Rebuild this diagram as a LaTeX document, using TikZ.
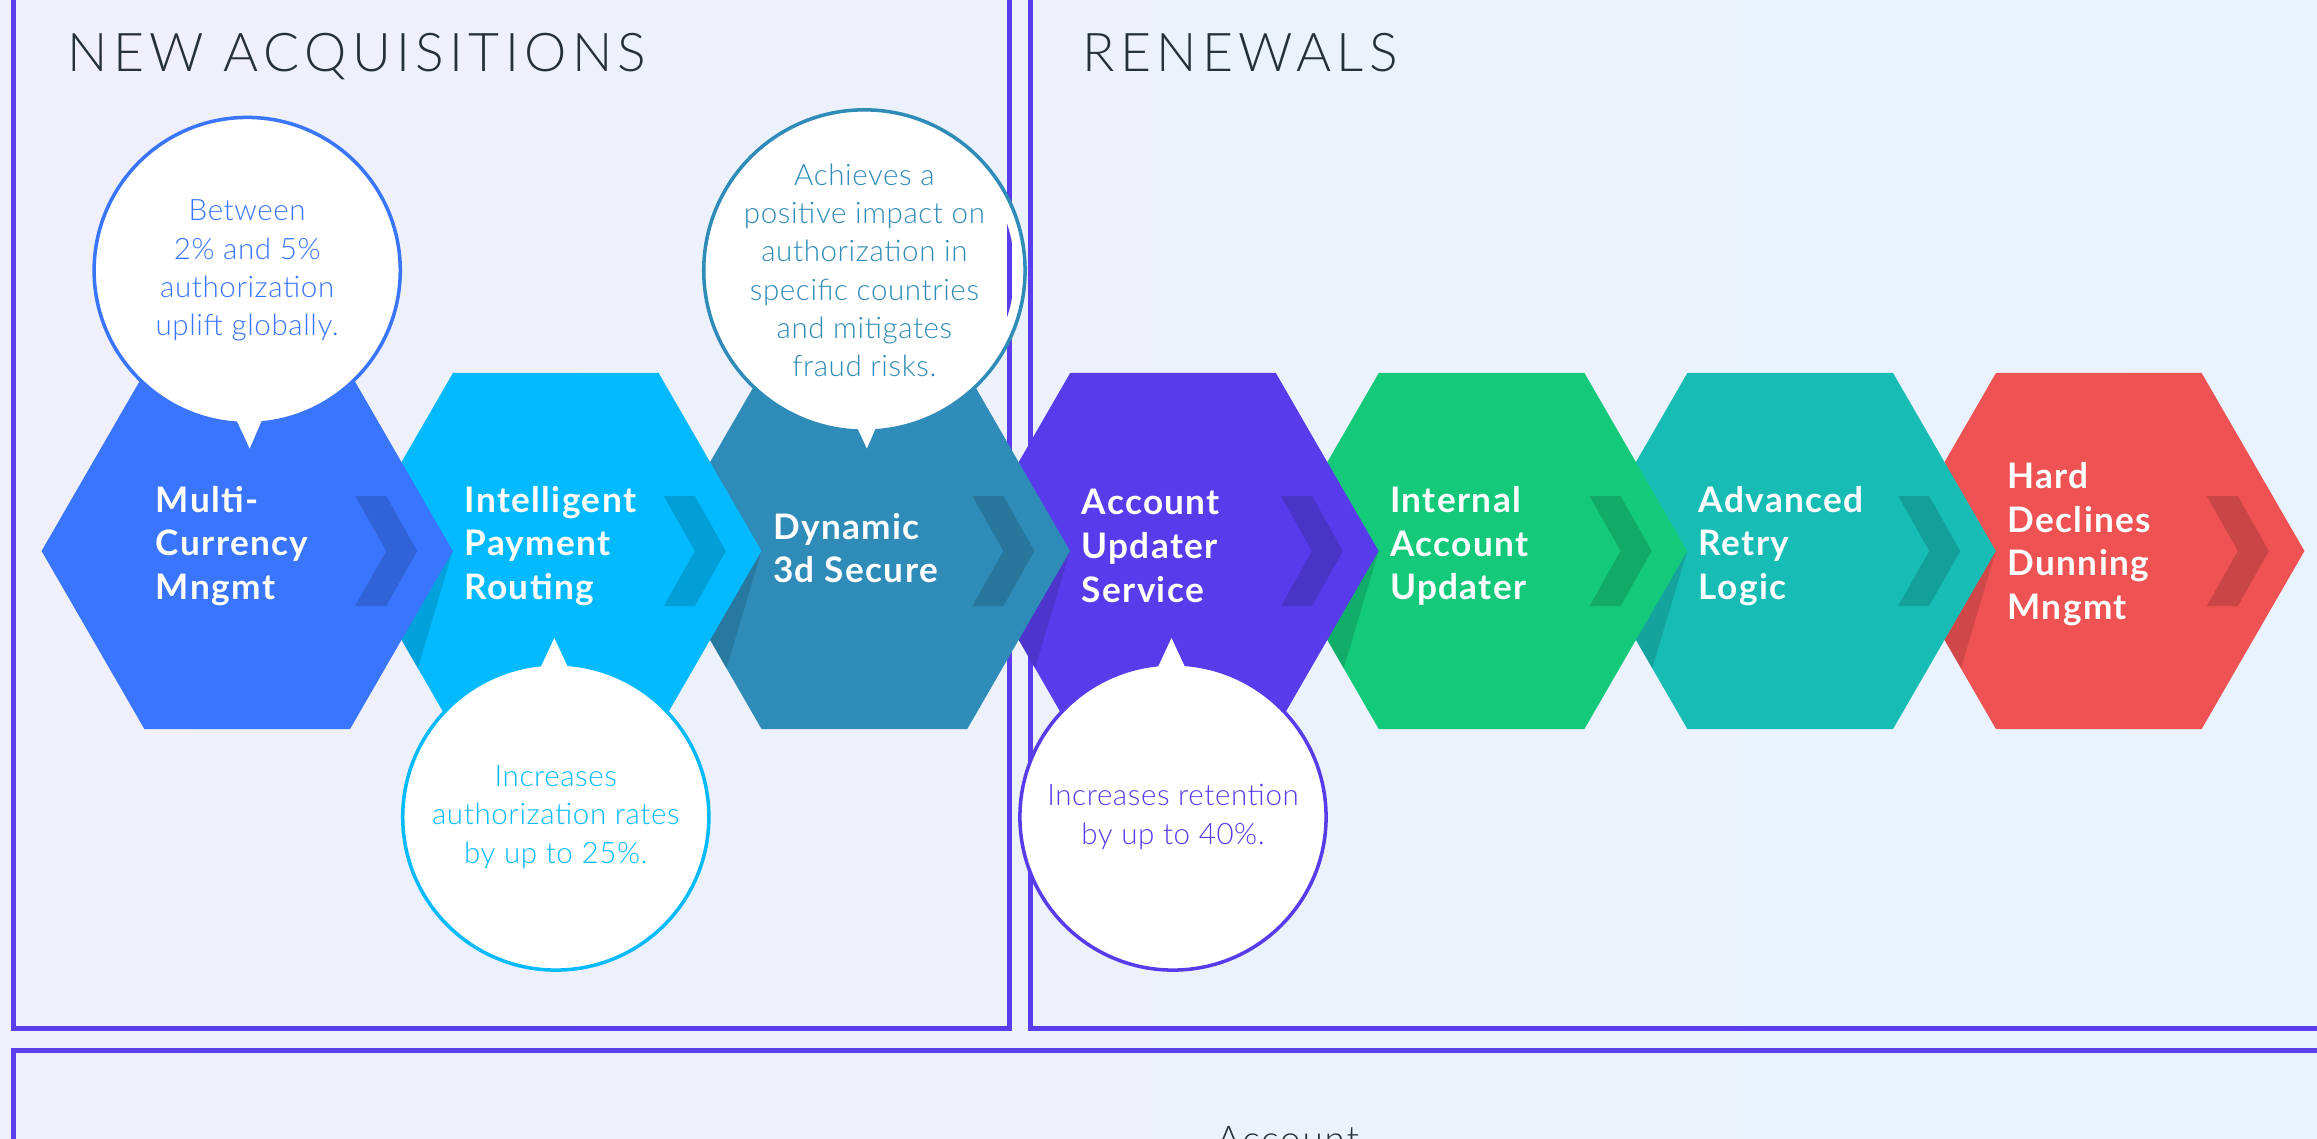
\documentclass[tikz,border=0pt]{standalone}
\usepackage{fontspec}
\setmainfont{Lato}
\newfontfamily\lightfont{Lato Light}
\usetikzlibrary{shapes.geometric}
\definecolor{hexblue}{HTML}{3A75FE}
\definecolor{hexcyan}{HTML}{02BAFD}
\definecolor{hexsteel}{HTML}{2F8BB7}
\definecolor{hexviolet}{HTML}{583CEB}
\definecolor{hexgreen}{HTML}{14C97A}
\definecolor{hexteal}{HTML}{17BDB5}
\definecolor{hexred}{HTML}{EE5253}
\definecolor{frameviolet}{HTML}{5A3DEB}
\definecolor{inkdark}{HTML}{25303B}
\definecolor{bgleft}{HTML}{EFF0FB}
\definecolor{bgright}{HTML}{E9F3FD}
\tikzset{
    hexa/.style={regular polygon, regular polygon sides=6, minimum size=4.11cm, inner sep=0pt, outer sep=0pt},
    hexlabel/.style={anchor=west, align=left, text=white, inner sep=0pt, font=\bfseries\fontsize{10}{12.4}\selectfont\addfontfeature{LetterSpace=4}},
    chev/.style={fill=black, fill opacity=0.15},
    fold/.style={fill=black, fill opacity=0.13},
    bubble/.style={circle, draw=#1, fill=white, text=#1, line width=1pt, minimum size=3.06cm, inner sep=0pt, align=center, font=\lightfont\fontsize{8.4}{10.9}\selectfont\addfontfeature{LetterSpace=2}},
    bubtail/.style={fill=white},
    panel/.style={draw=frameviolet, line width=1.42pt},
    heading/.style={anchor=base west, text=inkdark, inner sep=0pt, font=\lightfont\fontsize{15.2}{18}\selectfont\addfontfeature{LetterSpace=10}}
}

\begin{document}
\begin{tikzpicture}[x=0.01cm, y=-0.01cm]
    \useasboundingbox (0,0) rectangle (2317,1139);
    \clip (0,0) rectangle (2317,1139);
    \fill[left color=bgleft, right color=bgright] (0,0) rectangle (2317,1139);

    % panels
    \draw[panel] (13.5,-20) rectangle (1009,1028.5);
    \draw[panel] (1030.7,-20) rectangle (2340,1028.5);
    \draw[panel] (13.5,1050.8) rectangle (2340,1180);
    \node[heading] (newacq) at (67,71.7) {NEW ACQUISITIONS};
    \node[heading] (renew) at (1082,71.7) {RENEWALS};
    \node[heading, font=\lightfont\fontsize{10.5}{12}\selectfont\addfontfeature{LetterSpace=5}] (acct) at (1216,1152) {Account};

    % hexagons, right to left so each one lies over the next
    \node[hexa, fill=hexred] (hard) at (2098.8,551) {};
    \fill[chev, shift={(hard.center)}] (108,-55) -- (139,-55) -- (170,0) -- (139,55) -- (108,55) -- (139,0) -- cycle;
    \fill[fold, shift={(hard.center)}] (-103,0) -- (-205.5,0) -- (-138,117.5) -- cycle;
    \node[hexlabel] (hardtxt) at ([xshift=-0.92cm,yshift=0.07cm]hard.center) {Hard\\Declines\\Dunning\\Mngmt};

    \node[hexa, fill=hexteal] (retry) at (1790.2,551) {};
    \fill[chev, shift={(retry.center)}] (108,-55) -- (139,-55) -- (170,0) -- (139,55) -- (108,55) -- (139,0) -- cycle;
    \fill[fold, shift={(retry.center)}] (-103,0) -- (-205.5,0) -- (-138,117.5) -- cycle;
    \node[hexlabel] (retrytxt) at ([xshift=-0.92cm,yshift=0.05cm]retry.center) {Advanced\\Retry\\Logic};

    \node[hexa, fill=hexgreen] (internal) at (1481.6,551) {};
    \fill[chev, shift={(internal.center)}] (108,-55) -- (139,-55) -- (170,0) -- (139,55) -- (108,55) -- (139,0) -- cycle;
    \fill[fold, shift={(internal.center)}] (-103,0) -- (-205.5,0) -- (-138,117.5) -- cycle;
    \node[hexlabel] (internaltxt) at ([xshift=-0.92cm,yshift=0.05cm]internal.center) {Internal\\Account\\Updater};

    \node[hexa, fill=hexviolet] (updater) at (1173,551) {};
    \fill[chev, shift={(updater.center)}] (108,-55) -- (139,-55) -- (170,0) -- (139,55) -- (108,55) -- (139,0) -- cycle;
    \fill[fold, shift={(updater.center)}] (-103,0) -- (-205.5,0) -- (-138,117.5) -- cycle;
    \node[hexlabel] (updatertxt) at ([xshift=-0.92cm,yshift=0.05cm]updater.center) {Account\\Updater\\Service};

    \node[hexa, fill=hexsteel] (secure) at (864.4,551) {};
    \fill[chev, shift={(secure.center)}] (108,-55) -- (139,-55) -- (170,0) -- (139,55) -- (108,55) -- (139,0) -- cycle;
    \fill[fold, shift={(secure.center)}] (-103,0) -- (-205.5,0) -- (-138,117.5) -- cycle;
    \node[hexlabel] (securetxt) at ([xshift=-0.92cm,yshift=0.03cm]secure.center) {Dynamic\\3d Secure};

    \node[hexa, fill=hexcyan] (routing) at (555.8,551) {};
    \fill[chev, shift={(routing.center)}] (108,-55) -- (139,-55) -- (170,0) -- (139,55) -- (108,55) -- (139,0) -- cycle;
    \fill[fold, shift={(routing.center)}] (-103,0) -- (-205.5,0) -- (-138,117.5) -- cycle;
    \node[hexlabel] (routingtxt) at ([xshift=-0.92cm,yshift=0.05cm]routing.center) {Intelligent\\Payment\\Routing};

    \node[hexa, fill=hexblue] (multi) at (247.2,551) {};
    \fill[chev, shift={(multi.center)}] (108,-55) -- (139,-55) -- (170,0) -- (139,55) -- (108,55) -- (139,0) -- cycle;
    \node[hexlabel] (multitxt) at ([xshift=-0.92cm,yshift=0.05cm]multi.center) {Multi-\\Currency\\Mngmt};

    % speech bubbles
    \node[bubble=hexblue] (upliftnote) at (247.2,270.5) {Between\\2\% and 5\%\\authorization\\uplift globally.};
    \fill[bubtail, shift={(upliftnote.center)}] (-11,149) -- (15,149) -- (2.5,178) -- cycle;
    \node[bubble=hexsteel] (securenote) at (864.4,270.5) {Achieves a\\positive impact on\\authorization in\\specific countries\\and mitigates\\fraud risks.};
    \fill[bubtail, shift={(securenote.center)}] (-11,149) -- (15,149) -- (2.5,178) -- cycle;
    \node[bubble=hexcyan] (routingnote) at (555.8,817) {Increases\\authorization rates\\by up to 25\%.};
    \fill[bubtail, shift={(routingnote.center)}] (-15,-150) -- (12,-150) -- (-1.5,-179) -- cycle;
    \node[bubble=hexviolet] (updaternote) at (1173,817) {Increases retention\\by up to 40\%.};
    \fill[bubtail, shift={(updaternote.center)}] (-15,-150) -- (12,-150) -- (-1.5,-179) -- cycle;

    % panel edge runs over the bubble
    \begin{scope}
        \clip (securenote.center) circle (1.5cm);
        \draw[panel] (1009,0) -- (1009,500);
    \end{scope}
\end{tikzpicture}
\end{document}
